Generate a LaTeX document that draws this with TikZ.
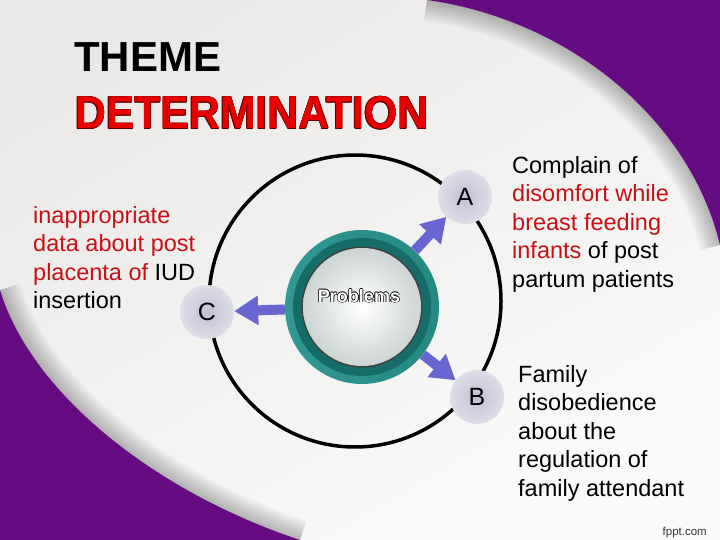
\documentclass[tikz,border=0pt]{standalone}
\usepackage{fontspec}
\setmainfont{Liberation Sans}
\usetikzlibrary{arrows.meta}

\definecolor{bgpurple}{RGB}{101,12,130}
\definecolor{bgtop}{RGB}{234,233,231}
\definecolor{bgbot}{RGB}{250,250,250}
\definecolor{titlered}{RGB}{232,0,0}
\definecolor{txtred}{RGB}{200,16,24}
\definecolor{spokeblue}{RGB}{104,100,208}
\definecolor{tealL}{RGB}{50,152,148}
\definecolor{tealA}{RGB}{36,136,131}
\definecolor{tealB}{RGB}{22,108,104}
\definecolor{discin}{RGB}{192,192,212}
\definecolor{discout}{RGB}{222,222,232}
\definecolor{innergray}{RGB}{205,212,212}

% text with a thin outline: #1 outline colour, #2 fill colour
\newcommand{\edgetext}[3]{{\def\olay##1##2{\rlap{\kern##1\raisebox{##2}{\color{#1}#3}}}%
  \olay{-.55pt}{0pt}\olay{.55pt}{0pt}\olay{0pt}{.55pt}\olay{0pt}{-.55pt}%
  \olay{-.4pt}{-.4pt}\olay{.4pt}{.4pt}\olay{-.4pt}{.4pt}\olay{.4pt}{-.4pt}%
  \textcolor{#2}{#3}}}

\begin{document}
\begin{tikzpicture}[x=1pt, y=-1pt,
    hub/.style={circle, minimum size=154pt, inner sep=0pt},
    letter/.style={circle, minimum size=54pt, inner sep=0pt, inner color=discin, outer color=discout, font=\fontsize{25}{25}\selectfont},
    spoke/.style={line width=10pt, spokeblue, -{Triangle[length=24pt, width=28pt]}},
    blurb/.style={anchor=north west, inner sep=0pt, align=left, font=\fontsize{23.5}{28.5}\selectfont}]
  \useasboundingbox (0,0) rectangle (720,540);
  \shade[top color=bgtop, bottom color=bgbot, shading angle=30] (0,0) rectangle (720,540);

  % purple corners with soft shadow
  \foreach \w in {3,6,...,42} {
    \draw[line width=\w pt, black, opacity=0.018] (427,0) .. controls (570,20) and (690,120) .. (720,245);
    \draw[line width=\w pt, black, opacity=0.018] (0,290) .. controls (30,390) and (150,490) .. (300,540);
  }
  \fill[bgpurple] (427,0) .. controls (570,20) and (690,120) .. (720,245) -- (720,0) -- cycle;
  \fill[bgpurple] (0,290) .. controls (30,390) and (150,490) .. (300,540) -- (0,540) -- cycle;

  % title
  \node[anchor=base west, inner sep=0pt, font=\fontsize{42}{42}\selectfont\bfseries] (theme) at (74,72) {THEME};
  \node[anchor=base west, inner sep=0pt, font=\fontsize{46}{46}\selectfont\bfseries] (determ) at (75,129)
    {\scalebox{0.93}[1]{\edgetext{red!40!black}{titlered}{DETERMINATION}}};

  % orbit and hub
  \draw[line width=3.5pt] (355,301) circle[radius=146pt];
  \shade[left color=tealL, right color=tealA] (362,307) circle[radius=77pt];
  \fill[tealB] (362,307) circle[radius=69pt];
  \fill[black!75] (362,307) circle[radius=60.5pt];
  \shade[inner color=white, outer color=innergray] (362,307) circle[radius=59pt];
  \node[hub] (core) at (362,307) {};
  \node[font=\fontsize{18}{18}\selectfont\bfseries] (probs) at (359,296) {\edgetext{black}{white}{Problems}};

  \node[letter] (ltrA) at (465,197) {A};
  \node[letter] (ltrB) at (477,397) {B};
  \node[letter] (ltrC) at (207,312) {C};

  \draw[spoke] (core) -- (ltrA);
  \draw[spoke] (core) -- (ltrB);
  \draw[spoke] (core) -- (ltrC);

  % the three problems
  \node[blurb] (txtA) at (512,156) {Complain of\\ \textcolor{txtred}{disomfort while}\\ \textcolor{txtred}{breast feeding}\\ \textcolor{txtred}{infants} of post\\ partum patients};
  \node[blurb] (txtB) at (518,365) {Family\\ disobedience\\ about the\\ regulation of\\ family attendant};
  \node[blurb] (txtC) at (33,206) {\textcolor{txtred}{inappropriate}\\ \textcolor{txtred}{data about post}\\ \textcolor{txtred}{placenta of} IUD\\ insertion};

  \node[anchor=base east, inner sep=0pt, font=\fontsize{11.5}{12}\selectfont, text=black!80] (credit) at (707,535) {fppt.com};
\end{tikzpicture}
\end{document}
